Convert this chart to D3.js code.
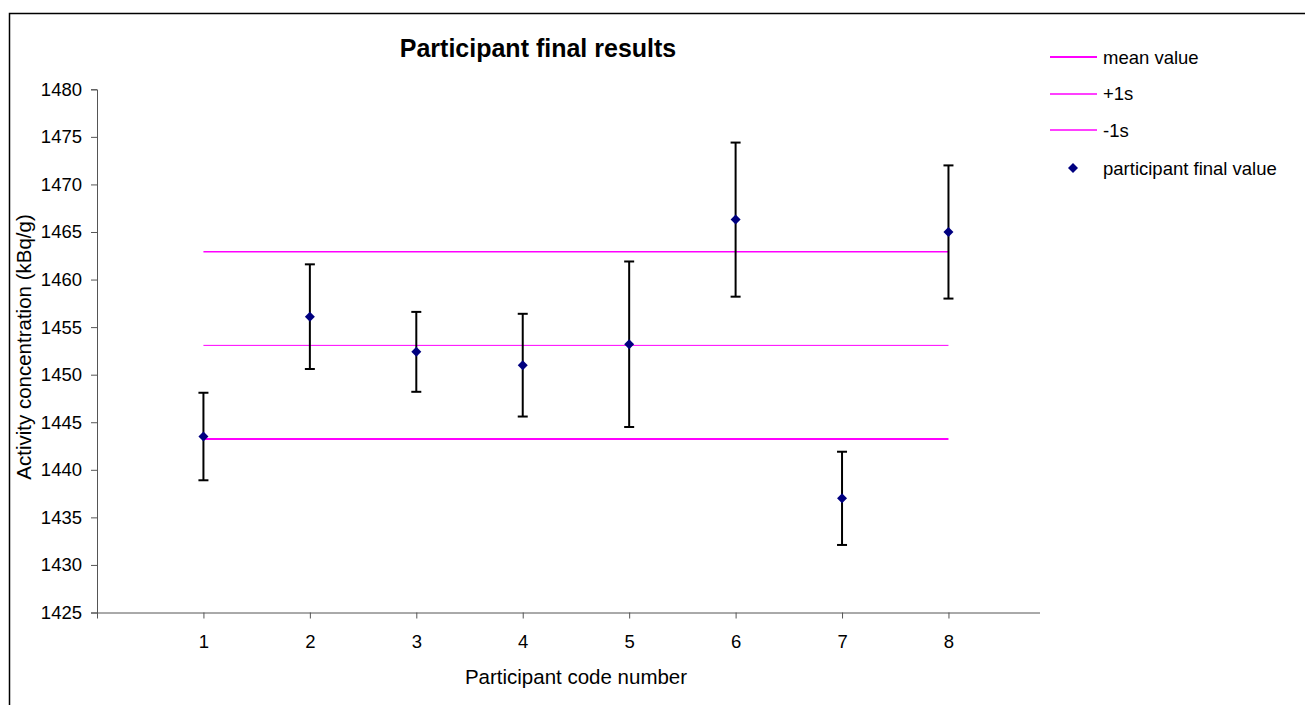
<!DOCTYPE html>
<html>
<head>
<meta charset="utf-8">
<script src="https://cdn.jsdelivr.net/npm/d3@7/dist/d3.min.js"></script>
<style>
  html, body { margin: 0; padding: 0; background: #fff; }
  svg { display: block; font-family: "Liberation Sans", Arial, sans-serif; }
</style>
</head>
<body>
<svg id="chart" width="1305" height="705"></svg>
<script>
// Participant codes and reported activity concentrations (kBq/g)
const participants = [1, 2, 3, 4, 5, 6, 7, 8];
const finalValues = [1443.5, 1456.1, 1452.4, 1451.0, 1453.2, 1466.3, 1437.0, 1465.0];
const uncertainties = [4.6, 5.5, 4.2, 5.4, 8.7, 8.1, 4.9, 7.0];

// Reference statistics
const meanValue = 1453.08;
const plusOneS = 1462.92;
const minusOneS = 1443.25;

// Axis ticks
const yTicks = [1425, 1430, 1435, 1440, 1445, 1450, 1455, 1460, 1465, 1470, 1475, 1480];
const xTicks = [0, 1, 2, 3, 4, 5, 6, 7, 8];

const FONT = "Liberation Sans, Arial, sans-serif";
const svg = d3.select("#chart");

// Outer chart-area frame
svg.append("rect")
  .attr("x", 9.5).attr("y", 13.5)
  .attr("width", 1400).attr("height", 800)
  .attr("fill", "none").attr("stroke", "#000").attr("stroke-width", 1.5);

const plot = { left: 97, right: 1040, top: 89.3, bottom: 612.5 };

const x = d3.scaleLinear().domain([0, 8.86]).range([plot.left, plot.right]);
const y = d3.scaleLinear().domain([1425, 1480]).range([plot.bottom, plot.top]);

// Y axis
const yAxis = svg.append("g")
  .attr("transform", `translate(${plot.left},0)`)
  .call(d3.axisLeft(y).tickValues(yTicks).tickSize(6).tickPadding(9).tickFormat(d3.format("d")));
yAxis.select(".domain").attr("stroke", "#555");
yAxis.selectAll(".tick line").attr("stroke", "#555");
yAxis.selectAll("text").attr("font-size", 18.5).attr("fill", "#000").attr("font-family", FONT);

// X axis
const xAxis = svg.append("g")
  .attr("transform", `translate(0,${plot.bottom})`)
  .call(d3.axisBottom(x).tickValues(xTicks).tickSize(6).tickPadding(16)
    .tickFormat(d => d === 0 ? "" : d));
xAxis.select(".domain").attr("stroke", "#555").attr("d", `M${plot.left},0.5H${plot.right}`);
xAxis.selectAll(".tick line").attr("stroke", "#555");
xAxis.selectAll("text").attr("font-size", 18.5).attr("fill", "#000").attr("font-family", FONT);

// Reference lines spanning the participant range
const refLines = [
  { value: plusOneS, width: 1.5 },
  { value: meanValue, width: 1 },
  { value: minusOneS, width: 2 }
];
svg.append("g").selectAll("line").data(refLines).join("line")
  .attr("x1", x(participants[0])).attr("x2", x(participants[participants.length - 1]))
  .attr("y1", d => y(d.value)).attr("y2", d => y(d.value))
  .attr("stroke", "#ff00ff").attr("stroke-width", d => d.width);

// Error bars
const data = participants.map((p, i) => ({ p, v: finalValues[i], u: uncertainties[i] }));
const eb = svg.append("g").attr("stroke", "#000").attr("stroke-width", 2);
eb.selectAll(".stem").data(data).join("line")
  .attr("x1", d => x(d.p)).attr("x2", d => x(d.p))
  .attr("y1", d => y(d.v + d.u)).attr("y2", d => y(d.v - d.u));
eb.selectAll(".capTop").data(data).join("line")
  .attr("x1", d => x(d.p) - 5).attr("x2", d => x(d.p) + 5)
  .attr("y1", d => y(d.v + d.u)).attr("y2", d => y(d.v + d.u));
eb.selectAll(".capBot").data(data).join("line")
  .attr("x1", d => x(d.p) - 5).attr("x2", d => x(d.p) + 5)
  .attr("y1", d => y(d.v - d.u)).attr("y2", d => y(d.v - d.u));

// Diamond markers
const diamond = "M0,-5L5,0L0,5L-5,0Z";
svg.append("g").selectAll("path").data(data).join("path")
  .attr("d", diamond)
  .attr("transform", d => `translate(${x(d.p)},${y(d.v)})`)
  .attr("fill", "#000080");

// Title
svg.append("text")
  .attr("x", 538).attr("y", 57)
  .attr("text-anchor", "middle")
  .attr("font-size", 25).attr("font-weight", "bold")
  .text("Participant final results");

// Axis titles
svg.append("text")
  .attr("x", 576).attr("y", 684)
  .attr("text-anchor", "middle").attr("font-size", 20.5)
  .text("Participant code number");

svg.append("text")
  .attr("transform", "translate(31,347) rotate(-90)")
  .attr("text-anchor", "middle").attr("font-size", 20.5)
  .text("Activity concentration (kBq/g)");

// Legend
const legendItems = [
  { label: "mean value", type: "line", width: 2 },
  { label: "+1s", type: "line", width: 1.5 },
  { label: "-1s", type: "line", width: 1.5 },
  { label: "participant final value", type: "marker" }
];
const lg = svg.append("g");
legendItems.forEach((item, i) => {
  const cy = 57 + i * 36.5 + (i === 3 ? 1.5 : 0);
  if (item.type === "line") {
    lg.append("line")
      .attr("x1", 1050).attr("x2", 1097)
      .attr("y1", Math.round(cy)).attr("y2", Math.round(cy))
      .attr("stroke", "#ff00ff").attr("stroke-width", item.width);
  } else {
    lg.append("path").attr("d", diamond)
      .attr("transform", `translate(1073,${cy})`).attr("fill", "#000080");
  }
  lg.append("text")
    .attr("x", 1103).attr("y", cy + 6.5)
    .attr("font-size", 18.5)
    .text(item.label);
});
</script>
</body>
</html>
